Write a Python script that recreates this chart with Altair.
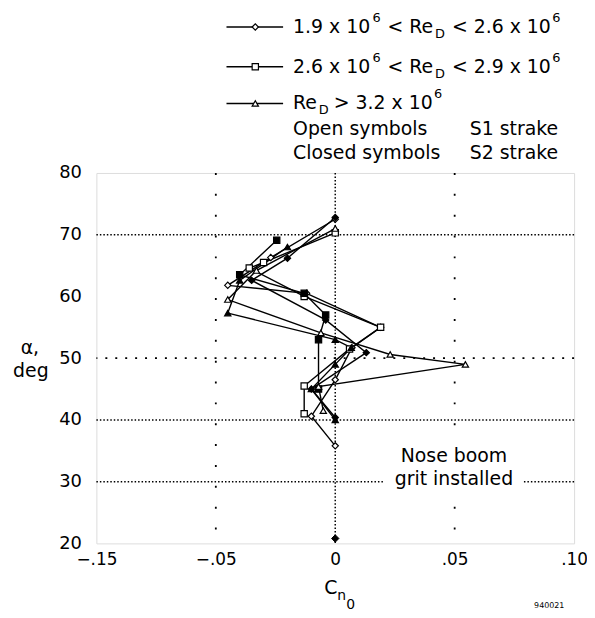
import altair as alt
import pandas as pd

# ---- axis ticks (labels as printed on the original figure) ----
x_ticks = [-0.10, -0.05, 0.0, 0.05, 0.10]
x_tick_labels = ["\u2212.15", "\u2212.05", "0", ".05", ".10"]
y_ticks = [20, 30, 40, 50, 60, 70, 80]

# ---- data series (Cn0, alpha) ----
# diamonds: 1.9e6 < ReD < 2.6e6
od_x = [0.000, -0.027, -0.045, -0.012, 0.019, 0.007, 0.000, -0.010, 0.000]
od_a = [72.5, 66.3, 61.8, 60.5, 55.0, 51.7, 46.5, 40.6, 35.8]
cd_x = [0.000, -0.020, -0.035, -0.004, 0.013, -0.010, 0.000]
cd_a = [72.8, 66.2, 62.6, 56.2, 50.9, 45.0, 40.4]
# squares: 2.6e6 < ReD < 2.9e6
os_x = [0.000, -0.030, -0.036, -0.013, 0.019, 0.006, -0.013, -0.013]
os_a = [70.3, 65.5, 64.6, 60.0, 55.0, 51.5, 45.5, 41.0]
cs_x = [-0.0245, -0.040, -0.013, -0.004, -0.007, -0.007]
cs_a = [69.1, 63.5, 60.5, 57.0, 53.0, 45.0]
# triangles: ReD > 3.2e6
ot_x = [0.000, -0.033, -0.045, -0.006, 0.023, 0.0545, -0.007, -0.005]
ot_a = [71.0, 64.2, 59.5, 54.1, 50.6, 49.0, 45.4, 41.5]
ct_x = [-0.020, -0.040, -0.045, 0.000, 0.0067, 0.000, -0.010, 0.000]
ct_a = [68.0, 62.6, 57.3, 53.0, 51.7, 49.0, 45.0, 40.0]
# isolated closed point
lone_x = [0.0]
lone_a = [20.8]

grid_dense_alpha = [70, 40, 30]
grid_sparse_alpha = [50]
grid_dense_x = [0.0]
grid_sparse_x = [-0.05, 0.05]

series = [
    ("diamond", "open", od_x, od_a),
    ("diamond", "closed", cd_x, cd_a),
    ("square", "open", os_x, os_a),
    ("square", "closed", cs_x, cs_a),
    ("triangle", "open", ot_x, ot_a),
    ("triangle", "closed", ct_x, ct_a),
]
rows = []
for sym, st, xs, as_ in series:
    for i, (xv, av) in enumerate(zip(xs, as_)):
        rows.append(dict(x=xv, alpha=av, sym=sym, state=st, sid=sym + st, i=i))
df = pd.DataFrame(rows)
lone = pd.DataFrame({"x": lone_x, "alpha": lone_a, "sym": "diamond", "state": "closed"})

FONT = "DejaVu Sans"
label_expr = "".join(
    f"abs(datum.value - ({v})) < 1e-6 ? '{l}' : " for v, l in zip(x_ticks, x_tick_labels)
) + "''"

X = alt.X("x:Q", scale=alt.Scale(domain=[-0.1, 0.1], nice=False, zero=False),
          axis=alt.Axis(values=x_ticks, labelExpr=label_expr, title=None, grid=False,
                        domain=False, ticks=False, labelPadding=8, labelFontSize=17,
                        labelFont=FONT, labelColor="black", labelFlush=False))
Y = alt.Y("alpha:Q", scale=alt.Scale(domain=[20, 80], nice=False, zero=False),
          axis=alt.Axis(values=y_ticks, title=None, grid=False, domain=False, ticks=False,
                        labelPadding=15, labelFontSize=18, labelFont=FONT,
                        labelColor="black", labelFlush=False))

SHAPE = alt.Shape("sym:N", scale=alt.Scale(domain=["diamond", "square", "triangle"],
                                           range=["diamond", "square", "triangle-up"]), legend=None)
FILL = alt.Fill("state:N", scale=alt.Scale(domain=["open", "closed"], range=["white", "black"]),
                legend=None)

layers = []
layers.append(alt.Chart(pd.DataFrame({"alpha": grid_dense_alpha})).mark_rule(
    color="black", strokeWidth=1.5, strokeDash=[1.5, 2]).encode(y=Y))
layers.append(alt.Chart(pd.DataFrame({"alpha": grid_sparse_alpha})).mark_rule(
    color="black", strokeWidth=1.8, strokeDash=[2, 8]).encode(y=Y))
layers.append(alt.Chart(pd.DataFrame({"x": grid_dense_x})).mark_rule(
    color="black", strokeWidth=1.5, strokeDash=[1.5, 2]).encode(x=X))
layers.append(alt.Chart(pd.DataFrame({"x": grid_sparse_x})).mark_rule(
    color="black", strokeWidth=1.8, strokeDash=[2, 19]).encode(x=X))

dummy = pd.DataFrame({"a": [0]})
# white background behind the annotation
layers.append(alt.Chart(dummy).mark_rect(color="white").encode(
    x=alt.value(289), x2=alt.value(429), y=alt.value(272), y2=alt.value(321)))

layers.append(alt.Chart(df).mark_line(color="black", strokeWidth=1.4).encode(
    x=X, y=Y, detail="sid:N", order="i:Q"))
layers.append(alt.Chart(df).mark_point(filled=True, size=40, stroke="black", strokeWidth=1.2,
                                       opacity=1).encode(x=X, y=Y, shape=SHAPE, fill=FILL))
layers.append(alt.Chart(lone).mark_point(filled=True, size=55, stroke="black", strokeWidth=1,
                                         opacity=1).encode(x=X, y=Y, shape=SHAPE, fill=FILL))


def txt(s, x, y, size=19, align="left"):
    return alt.Chart(dummy).mark_text(text=s, font=FONT, fontSize=size, align=align,
                                      baseline="middle", color="black").encode(
        x=alt.value(x), y=alt.value(y))


# legend glyphs
leg_rows = [(-147, "diamond"), (-107, "square"), (-70, "triangle-up")]
for yy, shp in leg_rows:
    layers.append(alt.Chart(dummy).mark_rule(color="black", strokeWidth=1.5).encode(
        x=alt.value(131), x2=alt.value(188), y=alt.value(yy)))
    layers.append(alt.Chart(dummy).mark_point(shape=shp, filled=True, fill="white",
                                              stroke="black", size=40, opacity=1,
                                              strokeWidth=1.2).encode(
        x=alt.value(160), y=alt.value(yy)))

layers += [
    # row 1
    txt("1.9 x 10", 198, -147), txt("6", 278, -156, 13), txt("< Re", 293, -147),
    txt("D", 341, -140, 13), txt("< 2.6 x 10", 358, -147), txt("6", 459, -156, 13),
    # row 2
    txt("2.6 x 10", 198, -107), txt("6", 278, -116, 13), txt("< Re", 293, -107),
    txt("D", 341, -100, 13), txt("< 2.9 x 10", 358, -107), txt("6", 459, -116, 13),
    # row 3
    txt("Re", 198, -70), txt("D", 224, -63, 13), txt("> 3.2 x 10", 239, -70),
    txt("6", 340, -79, 13),
    txt("Open symbols", 198, -44), txt("S1 strake", 376, -44),
    txt("Closed symbols", 198, -20), txt("S2 strake", 376, -20),
    txt("\u03b1,", -67, 176, 19, "center"), txt("deg", -66, 199, 19, "center"),
    txt("C", 236, 418, 19, "center"), txt("n", 247, 426, 14, "center"), txt("0", 256, 435, 14, "center"),
    txt("940021", 456, 436, 8, "center"),
    txt("Nose boom", 360, 285, 19, "center"), txt("grit installed", 360, 308, 19, "center"),
]

chart = alt.layer(*layers).properties(
    width=481, height=373,
    autosize=alt.AutoSizeParams(type="none"),
    padding={"left": 89, "top": 164, "right": 13, "bottom": 72},
).configure_view(stroke="#222", strokeWidth=2).configure(background="white")

chart.save("out.html", embed_options={"renderer": "svg", "actions": False})
